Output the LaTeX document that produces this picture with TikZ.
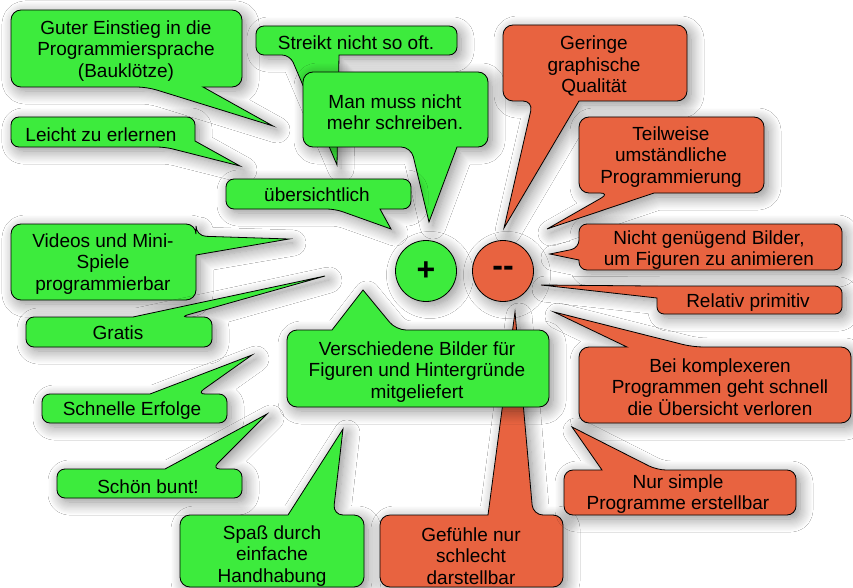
\documentclass[tikz,border=0pt]{standalone}
\usepackage{fontspec}
\setmainfont{Liberation Sans}
\usetikzlibrary{shadows.blur}
\definecolor{bgreen}{RGB}{61,235,61}
\definecolor{borange}{RGB}{232,99,64}
\tikzset{
  shad/.style={blur shadow={shadow xshift=4pt, shadow yshift=-4pt, shadow blur radius=13pt, shadow blur steps=12, shadow opacity=45}},
  bub/.style={draw=black, line width=0.8pt, line join=miter, shad},
  gbub/.style={bub, fill=bgreen},
  obub/.style={bub, fill=borange},
  txt/.style={font=\fontsize{19}{21.5}\selectfont, align=center, inner sep=0pt},
  circ/.style={circle, draw=black, line width=0.8pt, minimum size=61pt, inner sep=0pt,
    font=\fontsize{32}{32}\bfseries, shad}
}
\begin{document}
\begin{tikzpicture}[x=1pt,y=-1pt]
\useasboundingbox (0,0) rectangle (853,588);
\fill[white] (0,0) rectangle (853,588);

% green bubbles
\path[gbub] (147,87) -- (273,126) -- (203,87) [rounded corners=10pt] -- (242,87) -- (242,10) -- (11,10) -- (11,87) -- cycle;
\path[gbub] (165,147) -- (240,166) -- (195,141) [rounded corners=8pt] -- (195,117) -- (11,117) -- (11,147) -- cycle;
\path[gbub] (290,55) -- (337,165) -- (339,55) [rounded corners=8pt] -- (457,55) -- (457,26) -- (256,26) -- (256,55) -- cycle;
\path[gbub] (411,147) -- (429,222) -- (457,147) [rounded corners=10pt] -- (488,147) -- (488,72) -- (303,72) -- (303,147) -- cycle;
\path[gbub] (335,209) -- (391,229) -- (380,209) [rounded corners=8pt] -- (411,209) -- (411,179) -- (226,179) -- (226,209) -- cycle;
\path[gbub] (196,236) -- (289,239) -- (196,255) [rounded corners=10pt] -- (196,300) -- (11,300) -- (11,224) -- (196,224) -- cycle;
\path[gbub] (180,317) -- (325,276) -- (133,317) [rounded corners=8pt] -- (26,317) -- (26,347) -- (212,347) -- (212,317) -- cycle;
\path[gbub] (197,394) -- (252,355) -- (150,394) [rounded corners=8pt] -- (42,394) -- (42,423) -- (227,423) -- (227,394) -- cycle;
\path[gbub] (212,469) -- (267,414) -- (165,469) [rounded corners=8pt] -- (57,469) -- (57,498) -- (242,498) -- (242,469) -- cycle;
\path[gbub] (333,515) -- (343,429) -- (288,515) [rounded corners=10pt] -- (180,515) -- (180,587) -- (364,587) -- (364,515) -- cycle;

% orange bubbles
\path[obub] (533,515) -- (515,312) -- (488,515) [rounded corners=10pt] -- (380,515) -- (380,587) -- (563,587) -- (563,515) -- cycle;
\path[gbub] (396,330) -- (363,290) -- (332,330) [rounded corners=10pt] -- (287,330) -- (287,407) -- (549,407) -- (549,330) -- cycle;
\path[obub] (533,101) -- (504,228) -- (579,101) [rounded corners=10pt] -- (687,101) -- (687,25) -- (503,25) -- (503,101) -- cycle;
\path[obub] (610,193) -- (547,229) -- (654,193) [rounded corners=10pt] -- (764,193) -- (764,117) -- (579,117) -- (579,193) -- cycle;
\path[obub] (579,248) -- (550,254) -- (579,260) [rounded corners=8pt] -- (579,270) -- (842,270) -- (842,224) -- (579,224) -- cycle;
\path[obub] (652,286) -- (541,285) -- (657,298) [rounded corners=7pt] -- (657,314) -- (842,314) -- (842,286) -- cycle;
\path[obub] (693,347) -- (554,312) -- (627,347) [rounded corners=10pt] -- (579,347) -- (579,423) -- (851,423) -- (851,347) -- cycle;
\path[obub] (657,470) -- (572,427) -- (602,470) [rounded corners=9pt] -- (564,470) -- (564,515) -- (796,515) -- (796,470) -- cycle;

% circles
\node[circ, fill=bgreen] (plus) at (426,271) {+};
\node[circ, fill=borange] (minus) at (503,271) {-{}-};

% texts
\node[txt] (guter) at (126,51) {Guter Einstieg in die\\Programmiersprache\\(Bauklötze)};
\node[txt] (streikt) at (356,43) {Streikt nicht so oft.};
\node[txt] (manmuss) at (395,112) {Man muss nicht\\mehr schreiben.};
\node[txt] (leicht) at (101,135) {Leicht zu erlernen};
\node[txt] (uebers) at (317,195) {übersichtlich};
\node[txt] (videos) at (103,264) {Videos und Mini-\\Spiele\\programmierbar};
\node[txt] (gratis) at (118,333) {Gratis};
\node[txt] (verschiedene) at (417,372) {Verschiedene Bilder für\\Figuren und Hintergründe\\mitgeliefert};
\node[txt] (schnelle) at (132,411) {Schnelle Erfolge};
\node[txt] (schoen) at (148,487) {Schön bunt!};
\node[txt] (spass) at (272,556) {Spaß durch\\einfache\\Handhabung};
\node[txt] (gefuehle) at (471,556) {Gefühle nur\\schlecht\\darstellbar};
\node[txt] (geringe) at (594,66) {Geringe\\graphische\\Qualität};
\node[txt] (teilweise) at (671,157) {Teilweise\\umständliche\\Programmierung};
\node[txt] (nicht) at (709,250) {Nicht genügend Bilder,\\um Figuren zu animieren};
\node[txt] (relativ) at (748,303) {Relativ primitiv};
\node[txt] (bei) at (720,387) {Bei komplexeren\\Programmen geht schnell\\die Übersicht verloren};
\node[txt] (nur) at (678,494) {Nur simple\\Programme erstellbar};
\end{tikzpicture}
\end{document}
